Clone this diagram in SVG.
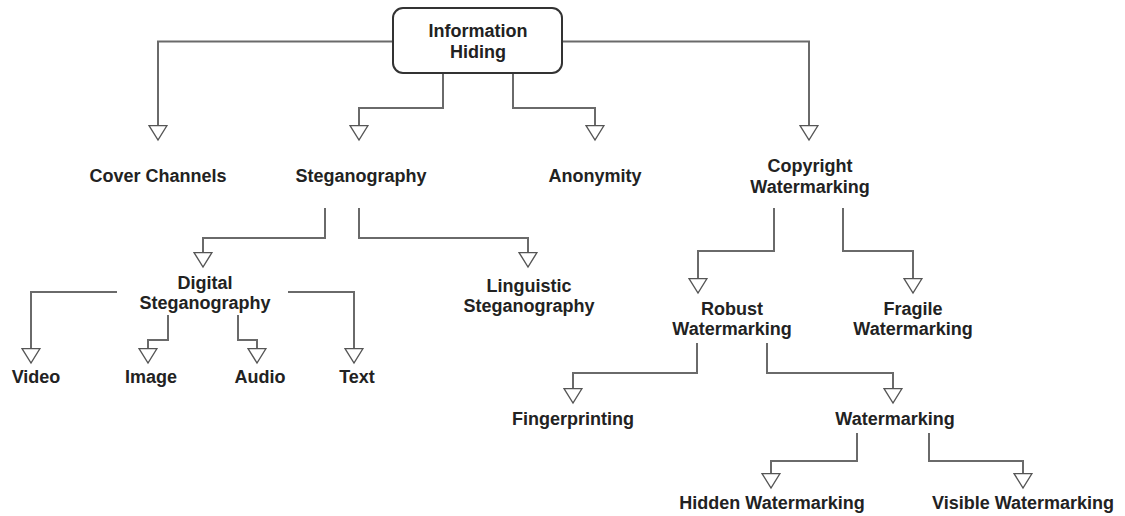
<svg xmlns="http://www.w3.org/2000/svg" width="1125" height="516" viewBox="0 0 1125 516">
  <style>
    .lbl { font-family: "Liberation Sans", Arial, sans-serif; font-size: 18px; font-weight: bold; fill: #222; text-anchor: middle; }
    .edge { fill: none; stroke: #6a6a6a; stroke-width: 2; marker-end: url(#openTri); }
    .box { fill: #fff; stroke: #333; stroke-width: 2; }
  </style>
  <defs>
    <!-- open (hollow) triangle arrowhead -->
    <marker id="openTri" markerUnits="userSpaceOnUse" viewBox="-1 -1 17 20" markerWidth="17" markerHeight="20" refX="14.5" refY="9" orient="auto">
      <path d="M0,0 L14.5,9 L0,18 Z" fill="#fff" stroke="#555" stroke-width="1.4"/>
    </marker>
  </defs>
  <rect width="1125" height="516" fill="#fff"/>

  <g id="connectors">
    <path class="edge" d="M393,41.5 H158 V140"/>
    <path class="edge" d="M443,73 V108 H359 V140"/>
    <path class="edge" d="M513,73 V108 H595 V140"/>
    <path class="edge" d="M562,41.5 H809 V140"/>
    <path class="edge" d="M325,208 V238 H203 V267"/>
    <path class="edge" d="M359,208 V238 H528 V267"/>
    <path class="edge" d="M117,292 H31 V363"/>
    <path class="edge" d="M168,315 V340 H148 V363"/>
    <path class="edge" d="M238,315 V340 H257 V363"/>
    <path class="edge" d="M288,292 H354 V363"/>
    <path class="edge" d="M774,208 V251 H698 V293"/>
    <path class="edge" d="M843,208 V251 H913 V293"/>
    <path class="edge" d="M697,343 V373 H573 V403"/>
    <path class="edge" d="M767,343 V373 H893 V403"/>
    <path class="edge" d="M857,433 V461 H771 V488"/>
    <path class="edge" d="M929,433 V461 H1023 V488"/>
  </g>

  <g id="information-hiding">
    <rect class="box" x="393" y="8" width="169" height="65" rx="10" ry="10"/>
    <text class="lbl" x="478" y="37">Information</text>
    <text class="lbl" x="478" y="58">Hiding</text>
  </g>
  <g id="cover-channels"><text class="lbl" x="158" y="182">Cover Channels</text></g>
  <g id="steganography"><text class="lbl" x="361" y="182">Steganography</text></g>
  <g id="anonymity"><text class="lbl" x="595" y="182">Anonymity</text></g>
  <g id="copyright-watermarking">
    <text class="lbl" x="810" y="172">Copyright</text>
    <text class="lbl" x="810" y="193">Watermarking</text>
  </g>
  <g id="digital-steganography">
    <text class="lbl" x="205" y="289">Digital</text>
    <text class="lbl" x="205" y="309">Steganography</text>
  </g>
  <g id="linguistic-steganography">
    <text class="lbl" x="529" y="292">Linguistic</text>
    <text class="lbl" x="529" y="312">Steganography</text>
  </g>
  <g id="video"><text class="lbl" x="36" y="383">Video</text></g>
  <g id="image"><text class="lbl" x="151" y="383">Image</text></g>
  <g id="audio"><text class="lbl" x="260" y="383">Audio</text></g>
  <g id="text"><text class="lbl" x="357" y="383">Text</text></g>
  <g id="robust-watermarking">
    <text class="lbl" x="732" y="315">Robust</text>
    <text class="lbl" x="732" y="335">Watermarking</text>
  </g>
  <g id="fragile-watermarking">
    <text class="lbl" x="913" y="315">Fragile</text>
    <text class="lbl" x="913" y="335">Watermarking</text>
  </g>
  <g id="fingerprinting"><text class="lbl" x="573" y="425">Fingerprinting</text></g>
  <g id="watermarking"><text class="lbl" x="895" y="425">Watermarking</text></g>
  <g id="hidden-watermarking"><text class="lbl" x="772" y="509">Hidden Watermarking</text></g>
  <g id="visible-watermarking"><text class="lbl" x="1023" y="509">Visible Watermarking</text></g>
</svg>
